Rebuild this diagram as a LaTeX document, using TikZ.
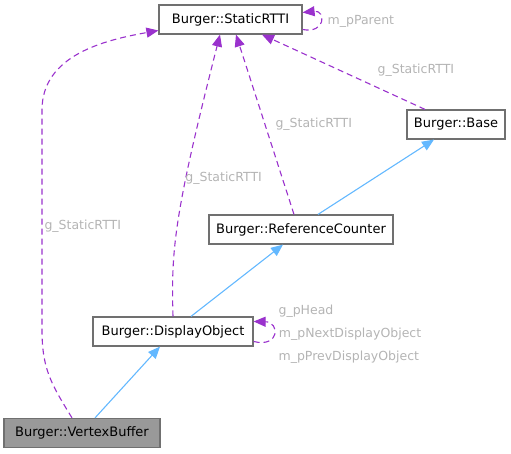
\documentclass[tikz,border=0pt]{standalone}
\usepackage{fontspec}
\setmainfont{DejaVu Sans}
\usepackage{xcolor}
\usetikzlibrary{arrows.meta}
\definecolor{edgeblue}{HTML}{63B8FF}
\definecolor{edgepurple}{HTML}{9A32CD}
\definecolor{boxgray}{HTML}{707070}
\definecolor{labelgray}{HTML}{B4B4B4}
\begin{document}
\begin{tikzpicture}[x=1pt,y=-1pt,
  cls/.style={draw=boxgray,line width=1.2pt,fill=white,minimum height=29pt,inner xsep=7pt,font=\fontsize{13}{15}\selectfont},
  inh/.style={edgeblue,line width=1.1pt,-{Triangle[length=12pt,width=10pt]}},
  use/.style={edgepurple,line width=1.1pt,dash pattern=on 6pt off 4pt,-{Triangle[length=12pt,width=10pt]}},
  lbl/.style={labelgray,font=\fontsize{12.5}{15}\selectfont,inner sep=1pt}]
  \useasboundingbox (0,0) rectangle (511,454);
  \node[cls,minimum width=143pt] (srtti) at (230.5,19.5) {Burger::StaticRTTI};
  \node[cls,minimum width=98pt] (base) at (456,124.5) {Burger::Base};
  \node[cls,minimum width=182pt] (rc) at (301,229.5) {Burger::ReferenceCounter};
  \node[cls,minimum width=160pt] (dobj) at (173,331.5) {Burger::DisplayObject};
  \node[cls,minimum width=156pt,fill={rgb,255:red,153;green,153;blue,153}] (vb) at (82,433) {Burger::VertexBuffer};
  \draw[inh] ([xshift=13pt]vb.north) -- ([xshift=-13pt]dobj.south);
  \draw[inh] ([xshift=18pt]dobj.north) -- ([xshift=-18pt]rc.south);
  \draw[inh] ([xshift=17pt]rc.north) -- ([xshift=-22pt]base.south);
  \draw[use] ([xshift=-31pt]base.north) -- node[lbl,pos=0.3,anchor=south west,yshift=9pt] {g\_StaticRTTI} ([xshift=31.5pt]srtti.south);
  \draw[use] ([xshift=-7pt]rc.north) -- node[lbl,pos=0.5,right=9pt] {g\_StaticRTTI} ([xshift=5.5pt]srtti.south);
  \draw[use] (dobj.north) .. controls (171,250) and (174,215) .. node[lbl,pos=0.65,right=-2pt] {g\_StaticRTTI} ([xshift=-10.5pt]srtti.south);
  \draw[use] ([xshift=-10pt]vb.north) .. controls (52,385) and (42,370) .. (42,330) -- node[lbl,pos=0.47,right=1pt] {g\_StaticRTTI} (42,110) .. controls (42,55) and (105,40) .. ([yshift=-11pt]srtti.west);
  \draw[use] ([yshift=-10pt]srtti.east) .. controls (326,34) and (326,10) .. node[lbl,right=6pt] {m\_pParent} ([yshift=7pt]srtti.east);
  \draw[use] ([yshift=-10pt]dobj.east) .. controls (280,348) and (280,322) .. node[lbl,right=4pt] (nxt) {m\_pNextDisplayObject} ([yshift=10pt]dobj.east);
  \node[lbl,anchor=south west] (hd) at ([yshift=8pt]nxt.north west) {g\_pHead};
  \node[lbl,anchor=north west] (prv) at ([yshift=-8pt]nxt.south west) {m\_pPrevDisplayObject};
\end{tikzpicture}
\end{document}
